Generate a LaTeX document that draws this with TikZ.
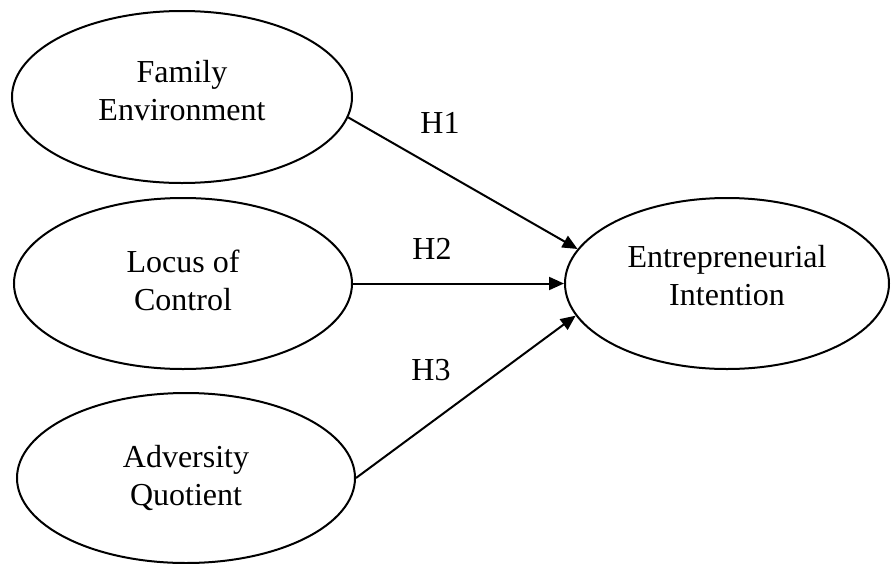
\documentclass[tikz,border=0pt]{standalone}
\usepackage{fontspec}
\setmainfont{Liberation Serif}
\usetikzlibrary{shapes.geometric,arrows.meta}
\begin{document}
\begin{tikzpicture}[x=1pt,y=-1pt,
  ell/.style={draw,ellipse,line width=2pt,inner sep=0pt,align=center,font=\fontsize{32}{38}\selectfont},
  link/.style={line width=2pt,-{Triangle[length=15pt,width=13pt]}},
  lbl/.style={font=\fontsize{32}{38}\selectfont,inner sep=0pt}]
\useasboundingbox (0,0) rectangle (892,563);
\node[ell,minimum width=340pt,minimum height=172pt,text depth=13pt] (fe) at (182,97) {Family\\Environment};
\node[ell,minimum width=338pt,minimum height=171pt,text depth=6pt] (lc) at (183,283.5) {Locus of\\Control};
\node[ell,minimum width=338pt,minimum height=170pt] (aq) at (186,478) {Adversity\\Quotient};
\node[ell,minimum width=324pt,minimum height=171pt,text depth=17pt] (ei) at (727,283.5) {Entrepreneurial\\Intention};
\draw[link] (fe.-7.3) -- (ei.167.2);
\draw[link] (lc) -- (ei);
\draw[link] (aq.0.7) -- (ei.192);
\node[lbl] (h1) at (440,123) {H1};
\node[lbl] (h2) at (432,249) {H2};
\node[lbl] (h3) at (431,370) {H3};
\end{tikzpicture}
\end{document}
